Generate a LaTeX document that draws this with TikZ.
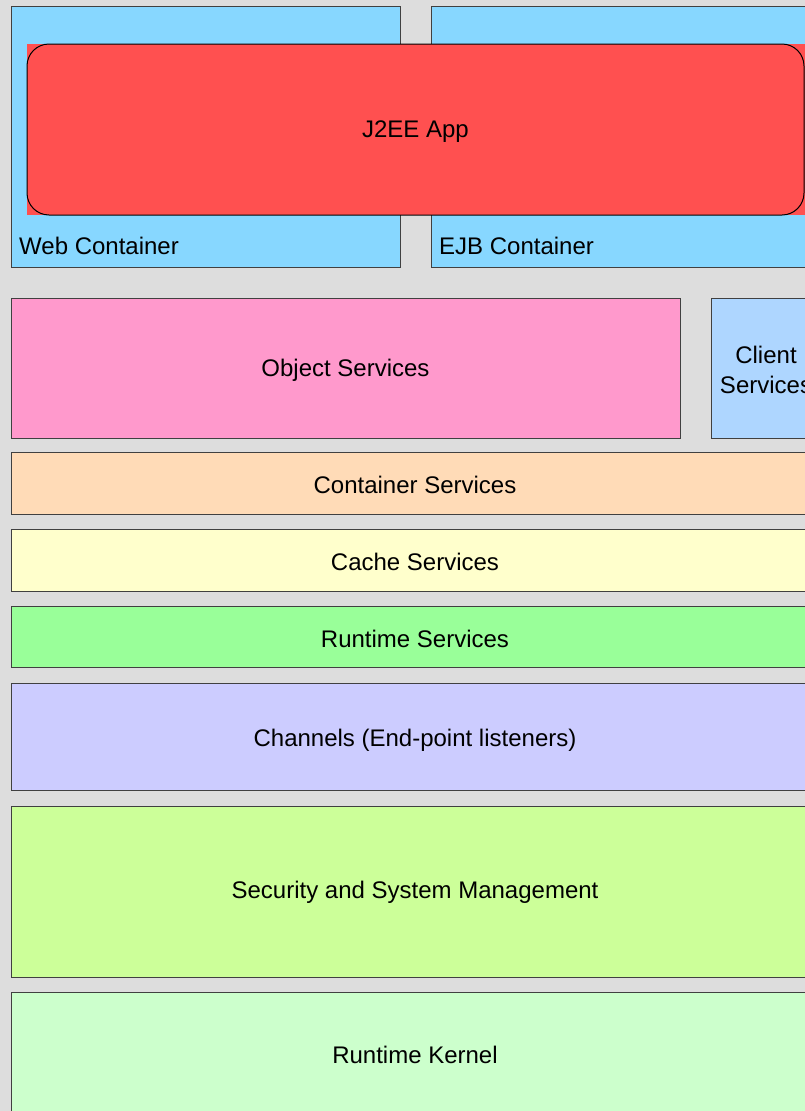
\documentclass[tikz,border=0pt]{standalone}
\usepackage{fontspec}
\setmainfont{Liberation Sans}
\definecolor{bggray}{HTML}{DDDDDD}
\definecolor{contblue}{HTML}{87D7FF}
\definecolor{appred}{HTML}{FF5050}
\definecolor{objpink}{HTML}{FF99CC}
\definecolor{clientblue}{HTML}{AED6FF}
\definecolor{contpeach}{HTML}{FFDBB7}
\definecolor{cacheyellow}{HTML}{FFFFCC}
\definecolor{rtgreen}{HTML}{99FF99}
\definecolor{chanviolet}{HTML}{CCCCFF}
\definecolor{seclime}{HTML}{CCFF99}
\definecolor{kernelmint}{HTML}{CCFFCC}
\begin{document}
\begin{tikzpicture}[x=1pt,y=-1pt,
  every node/.style={font=\fontsize{24}{30}\selectfont, text=black},
  layer/.style={draw=black!75, line width=1pt, rectangle, anchor=north west,
    inner sep=0pt, outer sep=0pt},
  caption/.style={align=center, yshift=-2pt},
  label/.style={anchor=base west, inner sep=0pt}]
  % canvas
  \fill[bggray] (0,0) rectangle (805,1111);
  \useasboundingbox (0,0) rectangle (805,1111);
  \clip (0,0) rectangle (805,1111);

  % containers
  \node[layer, fill=contblue, minimum width=389pt, minimum height=261pt] (web) at (11,6) {};
  \node[layer, fill=contblue, minimum width=400pt, minimum height=261pt] (ejb) at (431,6) {};
  \node[label] (weblbl) at (19,254) {Web Container};
  \node[label] (ejblbl) at (439,254) {EJB Container};

  % application spanning both containers
  \fill[appred] (27,44) rectangle (815,215);
  \node[layer, draw=black, rounded corners=22pt, minimum width=777pt, minimum height=171pt] (app) at (27,44) {};
  \node[caption] at (app.center) {J2EE App};

  % service layers
  \node[layer, fill=objpink, minimum width=669pt, minimum height=140pt] (obj) at (11,298) {};
  \node[caption] at (obj.center) {Object Services};
  \node[layer, fill=clientblue, minimum width=110pt, minimum height=140pt] (client) at (711,298) {};
  \node[caption] at (client.center) {Client\\Services};
  \node[layer, fill=contpeach, minimum width=810pt, minimum height=62pt] (contsvc) at (11,452) {};
  \node[caption] at (415,483) {Container Services};
  \node[layer, fill=cacheyellow, minimum width=810pt, minimum height=62pt] (cache) at (11,529) {};
  \node[caption] at (415,560) {Cache Services};
  \node[layer, fill=rtgreen, minimum width=810pt, minimum height=61pt] (rtsvc) at (11,606) {};
  \node[caption] at (415,637) {Runtime Services};
  \node[layer, fill=chanviolet, minimum width=810pt, minimum height=107pt] (chan) at (11,683) {};
  \node[caption] at (415,738) {Channels (End-point listeners)};
  \node[layer, fill=seclime, minimum width=810pt, minimum height=171pt] (sec) at (11,806) {};
  \node[caption] at (415,890) {Security and System Management};
  \node[layer, fill=kernelmint, minimum width=810pt, minimum height=140pt] (kernel) at (11,992) {};
  \node[caption] at (415,1053) {Runtime Kernel};
\end{tikzpicture}
\end{document}
